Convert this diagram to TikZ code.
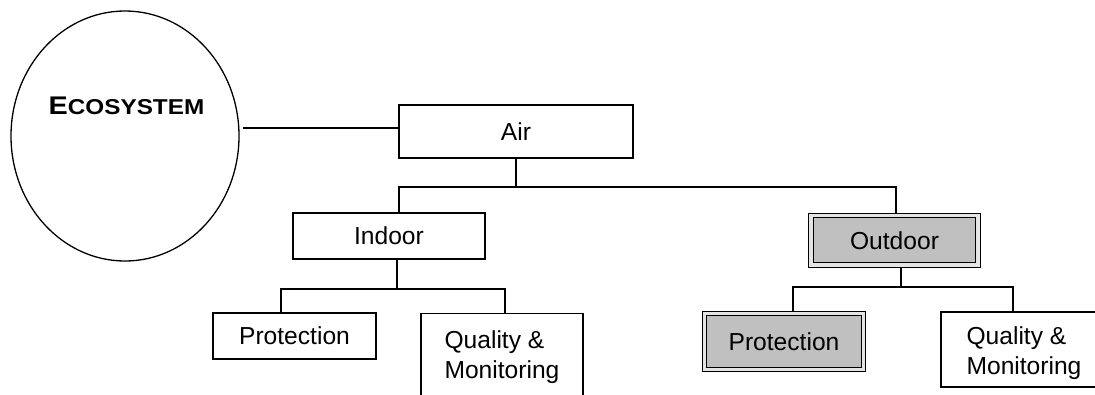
\documentclass[tikz,border=0pt]{standalone}
\usepackage{fontspec}
\setmainfont{Liberation Sans}
\usetikzlibrary{shapes.geometric,backgrounds}
\definecolor{boxgray}{HTML}{C0C0C0}
\definecolor{gapgray}{HTML}{E4E4E4}
\begin{document}
\begin{tikzpicture}[x=1pt,y=-1pt,line width=1.3pt,
  box/.style={draw, rectangle, fill=white, inner sep=0pt, font=\fontsize{24.6}{30}\selectfont},
  hibox/.style={box, fill=boxgray, double=gapgray, double distance=3.2pt},
  lbl/.style={inner sep=0pt, align=left, font=\fontsize{24.6}{30}\selectfont},
  wire/.style={draw, line width=1.3pt}]
\clip (0,0) rectangle (1095,394);

% root ellipse and its title
\node[draw, ellipse, minimum width=228pt, minimum height=250pt, inner sep=0pt] (eco) at (125,136) {};
\node[inner sep=0pt] (ecolabel) at (126.5,106)
  {\scalebox{1.13}[1]{\bfseries\fontsize{25.5}{25}\selectfont E\fontsize{21.5}{21}\selectfont COSYSTEM}};

% boxes
\node[box, minimum width=234pt, minimum height=53pt] (air) at (516,131.5) {Air};
\node[box, minimum width=192pt, minimum height=46pt] (indoor) at (389,236) {Indoor};
\node[hibox, minimum width=167pt, minimum height=49.5pt] (outdoor) at (894.5,240.25) {Outdoor};
\node[box, minimum width=163pt, minimum height=46pt] (protl) at (294.5,336) {Protection};
\node[box, minimum width=162pt, minimum height=110pt, anchor=north] (quall) at (502,313) {};
\node[lbl] (qualltext) at (502,357) {Quality \&\\Monitoring};
\node[hibox, minimum width=159pt, minimum height=56pt] (protr) at (784,341.5) {Protection};
\node[box, minimum width=159pt, minimum height=75pt] (qualr) at (1020.5,349.5) {};
\node[lbl] (qualrtext) at (1024,353) {Quality \&\\Monitoring};

% junction points of the tree
\coordinate (tap) at (243,128);
\coordinate (busAL) at (399,187);
\coordinate (busAR) at (896,187);
\coordinate (busIL) at (281,289);
\coordinate (busIM) at (397,289);
\coordinate (busIR) at (505,289);
\coordinate (busOL) at (793,287);
\coordinate (busOM) at (901,287);
\coordinate (busOR) at (1013,287);

% connectors
\begin{scope}[on background layer]
\draw[wire] (tap) -- (tap -| air.west);
\draw[wire] (air.south) -- (air.south |- busAL);
\draw[wire] (busAL |- indoor.north) -- (busAL) -- (busAR) -- (busAR |- outdoor.north);
\draw[wire] (busIM |- indoor.south) -- (busIM);
\draw[wire] (busIL |- protl.north) -- (busIL) -- (busIR) -- (busIR |- quall.north);
\draw[wire] (busOM |- outdoor.south) -- (busOM);
\draw[wire] (busOL |- protr.north) -- (busOL) -- (busOR) -- (busOR |- qualr.north);
\end{scope}
\end{tikzpicture}
\end{document}
